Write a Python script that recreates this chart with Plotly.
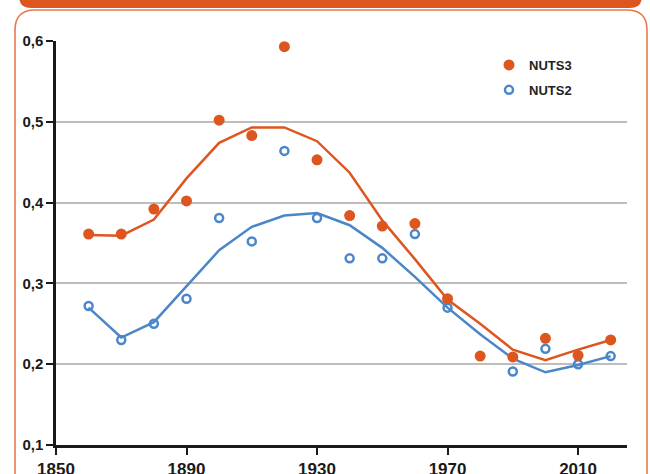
import plotly.graph_objects as go

# ---- data ----
years = [1860, 1870, 1880, 1890, 1900, 1910, 1920, 1930, 1940, 1950,
         1960, 1970, 1980, 1990, 2000, 2010, 2020]
nuts3 = [0.361, 0.361, 0.392, 0.402, 0.502, 0.483, 0.593, 0.453, 0.384, 0.371,
         0.374, 0.281, 0.210, 0.209, 0.232, 0.211, 0.230]
nuts2 = [0.272, 0.230, 0.250, 0.281, 0.381, 0.352, 0.464, 0.381, 0.331, 0.331,
         0.361, 0.270, None, 0.191, 0.219, 0.200, 0.210]
trend3 = [0.360, 0.359, 0.379, 0.430, 0.474, 0.493, 0.493, 0.476, 0.437, 0.378,
          0.330, 0.280, 0.250, 0.218, 0.205, 0.218, 0.230]
trend2 = [0.270, 0.233, 0.252, 0.297, 0.341, 0.370, 0.384, 0.387, 0.372, 0.344,
          0.308, 0.270, 0.237, 0.207, 0.190, 0.199, 0.210]
x_ticks = [1850, 1890, 1930, 1970, 2010]
y_ticks = [0.1, 0.2, 0.3, 0.4, 0.5, 0.6]

ORANGE = "#DE561F"
BLUE = "#4A86C8"
FONT = "Liberation Sans"

W, H = 650, 474
L, R, T, B = 56, 23, 41, 29
PW, PH = W - L - R, H - T - B


def px(x):
    return (x - L) / PW


def py(y):
    return (H - B - y) / PH


fig = go.Figure()
fig.add_trace(go.Scatter(x=years, y=trend3, mode="lines", showlegend=False,
                         line=dict(color=ORANGE, width=2.5), hoverinfo="skip"))
fig.add_trace(go.Scatter(x=years, y=trend2, mode="lines", showlegend=False,
                         line=dict(color=BLUE, width=2.5), hoverinfo="skip"))
fig.add_trace(go.Scatter(x=years, y=nuts2, mode="markers", name="NUTS2",
                         legendgroup="b", legendrank=2,
                         marker=dict(symbol="circle-open", size=8, color=BLUE,
                                     line=dict(width=2.5, color=BLUE))))
fig.add_trace(go.Scatter(x=years, y=nuts3, mode="markers", name="NUTS3",
                         legendgroup="a", legendrank=1,
                         marker=dict(symbol="circle", size=11, color=ORANGE)))


def rounded_path(x0, y0, x1, y1, r, top=True, bottom=True):
    # pixel coords, y down
    pts = []
    if top:
        pts.append(f"M {px(x0)},{py(y0 + r)}")
        pts.append(f"Q {px(x0)},{py(y0)} {px(x0 + r)},{py(y0)}")
        pts.append(f"L {px(x1 - r)},{py(y0)}")
        pts.append(f"Q {px(x1)},{py(y0)} {px(x1)},{py(y0 + r)}")
    else:
        pts.append(f"M {px(x0)},{py(y0)}")
        pts.append(f"L {px(x1)},{py(y0)}")
    if bottom:
        pts.append(f"L {px(x1)},{py(y1 - r)}")
        pts.append(f"Q {px(x1)},{py(y1)} {px(x1 - r)},{py(y1)}")
        pts.append(f"L {px(x0 + r)},{py(y1)}")
        pts.append(f"Q {px(x0)},{py(y1)} {px(x0)},{py(y1 - r)}")
    else:
        pts.append(f"L {px(x1)},{py(y1)}")
        pts.append(f"L {px(x0)},{py(y1)}")
    pts.append("Z")
    return " ".join(pts)


shapes = [
    dict(type="path", xref="paper", yref="paper", layer="below",
         path=rounded_path(15, 10, 647, 500, 20),
         line=dict(color="#E67A4C", width=1.6), fillcolor="white"),
    dict(type="path", xref="paper", yref="paper", layer="below",
         path=rounded_path(19, -20, 642, 8, 12, top=False),
         line=dict(width=0), fillcolor=ORANGE),
]

fig.update_layout(
    width=W, height=H,
    margin=dict(l=L, r=R, t=T, b=B, autoexpand=False),
    paper_bgcolor="white", plot_bgcolor="rgba(0,0,0,0)",
    separators=",.",
    font=dict(family=FONT, color="#222222"),
    shapes=shapes,
    showlegend=True,
    legend=dict(x=px(489), y=py(50), xanchor="left", yanchor="top",
                bgcolor="rgba(0,0,0,0)", traceorder="grouped",
                tracegroupgap=5,
                font=dict(family=FONT, size=13, weight="bold", color="#222222")),
    xaxis=dict(range=[1850, 2025], tickvals=x_ticks, showgrid=False,
               zeroline=False, showline=True, linecolor="#1a1a1a", linewidth=2.5,
               ticks="outside", ticklen=7, tickwidth=2, tickcolor="#1a1a1a",
               automargin=False,
               tickfont=dict(family=FONT, size=17, weight="bold", color="#1a1a1a")),
    yaxis=dict(range=[0.1, 0.6], tickvals=y_ticks, tickformat=".1f",
               showgrid=True, gridcolor="#BDBDBD", gridwidth=1.5,
               zeroline=False, showline=True, linecolor="#1a1a1a", linewidth=2.5,
               ticks="outside", ticklen=7, tickwidth=2, tickcolor="#1a1a1a",
               automargin=False,
               tickfont=dict(family=FONT, size=15, weight="bold", color="#1a1a1a")),
)

fig.write_html(
    "out.html",
    config={"displayModeBar": False},
    post_script="document.body.style.margin='0';document.body.style.overflow='hidden';",
)
